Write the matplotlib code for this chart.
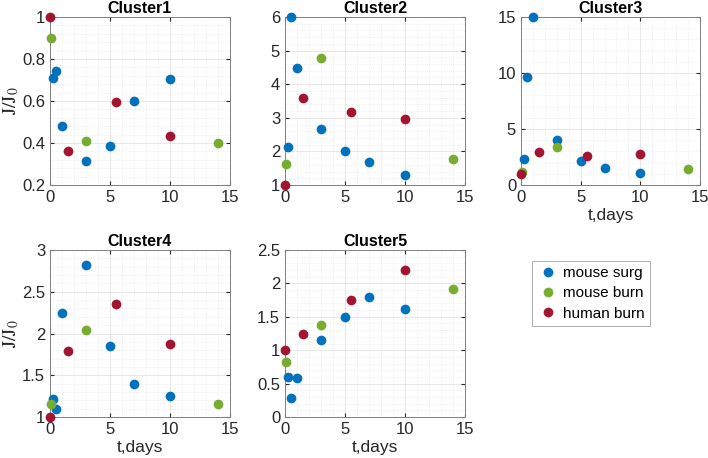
import matplotlib
matplotlib.use('Agg')
import matplotlib.pyplot as plt
from matplotlib.ticker import FormatStrFormatter, AutoMinorLocator

plt.rcParams['font.family'] = ['Liberation Sans', 'DejaVu Sans']
plt.rcParams['mathtext.fontset'] = 'stix'

# time points (days) for each group
t_surg = [0.25, 0.5, 1, 3, 5, 7, 10]
t_mburn = [0.1, 3, 14]
t_hburn = [0, 1.5, 5.5, 10]

# J/J0 per cluster
surg = {
    'Cluster1': [0.71, 0.745, 0.48, 0.315, 0.385, 0.60, 0.705],
    'Cluster2': [2.12, 6.0, 4.48, 2.68, 2.02, 1.69, 1.30],
    'Cluster3': [2.3, 9.6, 15.0, 4.0, 2.1, 1.55, 1.05],
    'Cluster4': [1.21, 1.10, 2.25, 2.82, 1.85, 1.40, 1.25],
    'Cluster5': [0.60, 0.28, 0.58, 1.15, 1.49, 1.79, 1.62],
}
mburn = {
    'Cluster1': [0.90, 0.41, 0.40],
    'Cluster2': [1.62, 4.78, 1.76],
    'Cluster3': [1.2, 3.4, 1.45],
    'Cluster4': [1.15, 2.04, 1.16],
    'Cluster5': [0.82, 1.37, 1.92],
}
hburn = {
    'Cluster1': [1.0, 0.36, 0.595, 0.435],
    'Cluster2': [1.0, 3.58, 3.18, 2.97],
    'Cluster3': [1.0, 2.95, 2.6, 2.75],
    'Cluster4': [1.0, 1.79, 2.35, 1.88],
    'Cluster5': [1.0, 1.25, 1.75, 2.20],
}
ylims = {
    'Cluster1': (0.2, 1.0, 0.2),
    'Cluster2': (1, 6, 1),
    'Cluster3': (0, 15, 5),
    'Cluster4': (1, 3, 0.5),
    'Cluster5': (0, 2.5, 0.5),
}

c_surg = (0, 0.447, 0.741)
c_mburn = (0.466, 0.674, 0.188)
c_hburn = (0.635, 0.078, 0.184)

W, H = 708, 458
fig = plt.figure(figsize=(W / 100, H / 100), dpi=100)

# axes boxes in pixels: left, top, right, bottom
boxes = {
    'Cluster1': (50, 17, 230, 185),
    'Cluster2': (285, 17, 465, 185),
    'Cluster3': (521, 17, 700, 185),
    'Cluster4': (50, 250, 230, 417),
    'Cluster5': (285, 250, 465, 417),
}

handles = None
for name, (l, t, r, b) in boxes.items():
    ax = fig.add_axes([l / W, 1 - b / H, (r - l) / W, (b - t) / H])
    kw = dict(ms=7, mew=0, clip_on=False, zorder=3)
    h1, = ax.plot(t_surg, surg[name], 'o', color=c_surg, label='mouse surg', **kw)
    h2, = ax.plot(t_mburn, mburn[name], 'o', color=c_mburn, label='mouse burn', **kw)
    h3, = ax.plot(t_hburn, hburn[name], 'o', color=c_hburn, label='human burn', **kw)
    handles = [h1, h2, h3]
    lo, hi, step = ylims[name]
    ax.set_xlim(0, 15)
    ax.set_ylim(lo, hi)
    ax.set_xticks([0, 5, 10, 15])
    n = int(round((hi - lo) / step))
    ax.set_yticks([lo + i * step for i in range(n + 1)])
    ax.yaxis.set_major_formatter(FormatStrFormatter('%g'))
    ax.xaxis.set_minor_locator(AutoMinorLocator(5))
    ax.yaxis.set_minor_locator(AutoMinorLocator(5))
    ax.grid(True, which='major', color='0.15', alpha=0.12, lw=0.6)
    ax.grid(True, which='minor', color='0.15', alpha=0.12, lw=0.5, ls=':')
    ax.tick_params(which='both', direction='in', top=True, right=True,
                   labelsize=12, color='0.15', labelcolor='0.15')
    ax.tick_params(which='major', length=3)
    ax.tick_params(which='minor', length=0)
    for s in ax.spines.values():
        s.set_color('0.5')
        s.set_linewidth(0.7)
    ax.set_title(name, fontsize=11.5, fontweight='bold', pad=3)
    if name in ('Cluster3', 'Cluster4', 'Cluster5'):
        ax.set_xlabel('t,days', fontsize=12.5, color='0.15', labelpad=2)
    if name in ('Cluster1', 'Cluster4'):
        ax.set_ylabel(r'$\mathrm{J/J_0}$', fontsize=14, color='0.15')
        ax.yaxis.set_label_coords((21 - l) / (r - l), 0.5)

leg = fig.legend(handles=handles, loc='upper left',
                 bbox_to_anchor=(532 / W, 1 - 261 / H), fontsize=11,
                 fancybox=False, frameon=True, handletextpad=0.3,
                 handlelength=1.4, borderpad=0.35, labelspacing=0.4,
                 borderaxespad=0)
leg.get_frame().set_edgecolor('0.6')
leg.get_frame().set_linewidth(0.7)

fig.savefig('out.png', dpi=100)
